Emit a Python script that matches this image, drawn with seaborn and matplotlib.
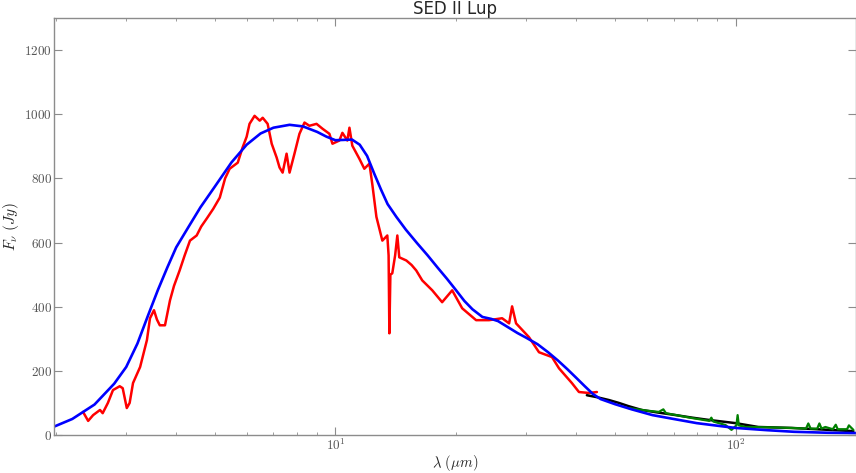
import matplotlib
matplotlib.use("Agg")
import matplotlib.pyplot as plt
from matplotlib.ticker import LogLocator, NullFormatter
import numpy as np
import pandas as pd
import seaborn as sns


# ==============================
# Data
# ==============================

# IRS spectrum (red)
irs_wave = [2.34, 2.41, 2.48, 2.58, 2.62, 2.70, 2.78, 2.89, 2.94, 3.01, 3.06,
            3.12, 3.25, 3.38, 3.44, 3.52, 3.58, 3.64, 3.75, 3.86, 3.95, 4.08,
            4.20, 4.33, 4.50, 4.62, 4.77, 4.95, 5.14, 5.30, 5.44, 5.70, 5.86, 6.00, 6.10, 6.28, 6.47,
            6.58, 6.77, 6.93, 7.13, 7.25, 7.38, 7.55, 7.68, 7.90, 8.13,
            8.37, 8.61, 8.97, 9.28, 9.66, 9.83, 10.23, 10.41, 10.71, 10.84,
            11.02, 11.48, 11.81, 12.16, 12.37, 12.66, 13.10, 13.48, 13.58, 13.64,
            13.72, 13.87, 14.10, 14.28, 14.44, 15.04, 15.50, 15.92, 16.48, 17.46, 18.48,
            19.58, 20.74, 22.47, 24.21, 26.10, 27.17, 27.64, 28.28, 30.46, 32.27,
            34.77, 36.20, 38.99, 40.61, 43.01, 45.03]
irs_flux = [72, 44, 62, 78, 68, 100, 140, 152, 146, 84, 100,
            162, 212, 296, 364, 389, 360, 342, 342, 420, 465, 513,
            560, 606, 622, 650, 675, 705, 740, 800, 830, 849, 896, 930, 970, 995, 980,
            989, 970, 908, 865, 834, 818, 877, 818, 877, 939,
            974, 964, 970, 955, 939, 908, 918, 942, 918, 958,
            902, 861, 830, 846, 780, 680, 606, 622, 560, 317,
            500, 504, 560, 622, 554, 544, 530, 513, 482, 451, 414,
            451, 395, 358, 358, 364, 348, 401, 348, 305, 258,
            243, 208, 162, 134, 131, 134]

# PACS spectrum (black)
pacs_wave = [42.5, 45.0, 48.25, 51.1, 54.0, 58.3, 64.0, 70.9, 78.0, 85.7,
             100.0, 114.0, 138.0, 165.0, 197.0]
pacs_flux = [124, 118, 109, 100, 90, 78, 70, 62, 54, 47,
             37, 25, 22, 17, 12]

# long wavelength spectrum (green)
spire_wave = [54.1, 60.0, 64.3, 66.0, 67.0, 77.7, 86.0, 87.0, 88.0, 94.4,
              97.7, 100.5, 101.2, 101.9, 105.9, 120.0, 138.0, 150.0, 152.0, 154.0,
              160.0, 162.0, 164.0, 167.7, 175.0, 178.0, 180.0, 190.0, 192.0, 197.0]
spire_flux = [84, 76, 72, 80, 68, 53, 44, 54, 42, 31,
              16, 30, 62, 30, 25, 24, 22, 20, 36, 20,
              20, 36, 20, 25, 18, 32, 18, 18, 30, 16]

# Model SED (blue)
model_wave = [1.98, 2.2, 2.5, 2.8, 3.0, 3.2, 3.4, 3.6, 3.8, 4.0,
              4.3, 4.6, 5.0, 5.5, 6.0, 6.5, 7.0, 7.68, 8.3, 9.0,
              9.5, 10.0, 10.5, 11.0, 11.5, 12.0, 12.5, 13.0, 13.5, 14.2,
              15.0, 16.0, 17.0, 18.0, 19.0, 20.0, 21.0, 22.0, 23.3, 24.5,
              25.5, 27.0, 28.5, 30.0, 32.0, 34.0, 36.0, 38.0, 40.0, 42.0,
              44.0, 46.0, 50.0, 55.0, 62.0, 70.0, 80.0, 90.0, 100.0, 120.0,
              140.0, 170.0, 200.0]
model_flux = [26, 50, 95, 160, 212, 285, 372, 452, 522, 585,
              650, 710, 775, 850, 905, 940, 958, 967, 962, 945,
              930, 919, 920, 921, 905, 870, 815, 765, 720, 680,
              640, 598, 560, 522, 487, 452, 418, 392, 368, 362,
              355, 336, 318, 303, 283, 258, 232, 205, 178, 152,
              128, 112, 96, 80, 62, 50, 37, 29, 22, 15,
              10, 7, 6]


def make_df(wave, flux):
    return pd.DataFrame({"wave": wave, "flux": flux})


# ==============================
# Style
# ==============================
sns.set_theme(style="ticks")
plt.rcParams["font.family"] = ["cmr10", "DejaVu Serif"]
plt.rcParams["mathtext.fontset"] = "cm"
plt.rcParams["axes.formatter.use_mathtext"] = True

fig = plt.figure(figsize=(8.56, 4.73), dpi=100)
ax = fig.add_axes([54 / 856, 1 - 435 / 473, 802 / 856, 417 / 473])

line_kw = dict(ax=ax, x="wave", y="flux", estimator=None, sort=False, legend=False)
sns.lineplot(data=make_df(irs_wave, irs_flux), color="#ff0000", linewidth=1.8, **line_kw)
sns.lineplot(data=make_df(pacs_wave, pacs_flux), color="black", linewidth=1.8, **line_kw)
sns.lineplot(data=make_df(spire_wave, spire_flux), color="#008000", linewidth=1.6, **line_kw)
sns.lineplot(data=make_df(model_wave, model_flux), color="#0000ff", linewidth=1.9, **line_kw)

ax.set_xscale("log")
ax.set_xlim(1.98, 200)
ax.set_ylim(0, 1300)
ax.set_yticks([0, 200, 400, 600, 800, 1000, 1200])
ax.xaxis.set_minor_locator(LogLocator(base=10, subs=np.arange(2, 10)))
ax.xaxis.set_minor_formatter(NullFormatter())

ax.set_xlabel(r"$\lambda\ (\mu m)$", fontsize=10.5, labelpad=0)
ax.set_ylabel(r"$F_\nu\ (Jy)$", fontsize=11, labelpad=2)
ax.set_title("SED II Lup", fontsize=12, family="DejaVu Sans", pad=3)

for side in ["left", "right", "top", "bottom"]:
    ax.spines[side].set_color("#8c8c8c")
    ax.spines[side].set_linewidth(1.0)

ax.tick_params(which="both", direction="in", top=True, right=True,
               colors="#8c8c8c", labelcolor="#555555", labelsize=9.5)
ax.tick_params(axis="y", pad=1.5)
ax.tick_params(axis="x", pad=2)
ax.tick_params(which="major", length=5.5, width=0.8)
ax.tick_params(which="minor", length=2.5, width=0.6)

plt.savefig("out.png", dpi=100)
plt.close()
